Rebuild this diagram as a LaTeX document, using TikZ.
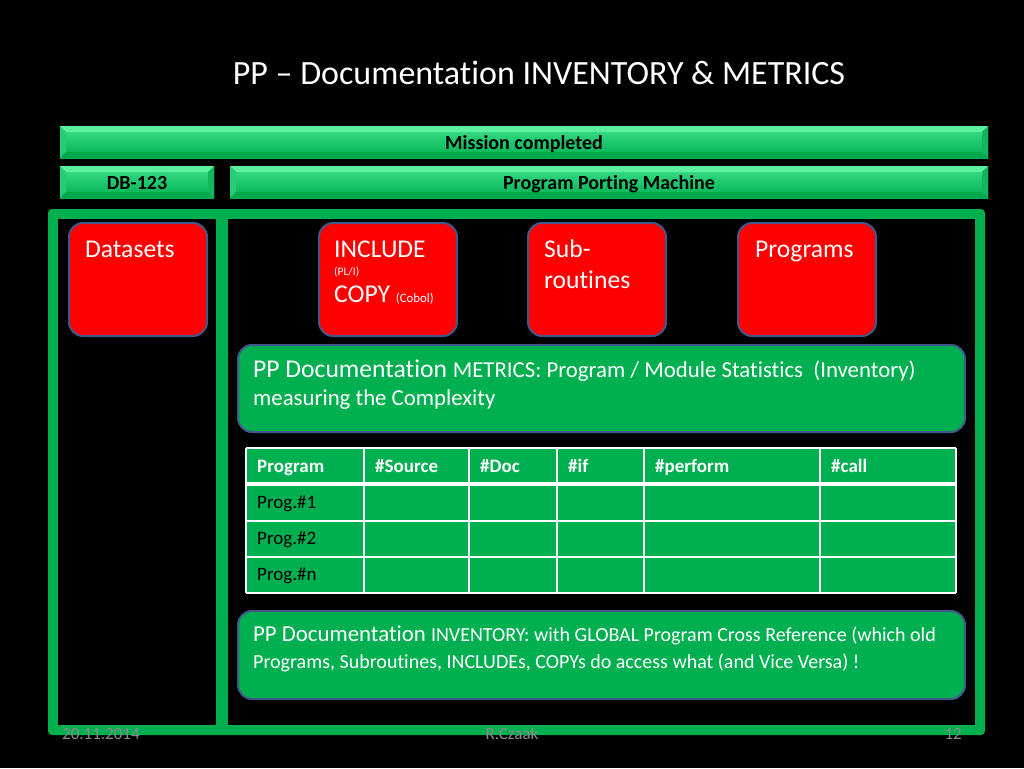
\documentclass[tikz,border=0pt]{standalone}
\usepackage{fontspec}
\setmainfont[Ligatures={NoCommon,NoContextual,NoRequired}]{Carlito}
\usetikzlibrary{positioning}

\definecolor{slidegreen}{HTML}{00B050}
\definecolor{barface}{HTML}{3EE08A}
\definecolor{bevtop}{HTML}{5CF0A0}
\definecolor{bevleft}{HTML}{2ACB74}
\definecolor{bevright}{HTML}{12B75C}
\definecolor{bevbottom}{HTML}{00A94C}
\definecolor{boxedge}{HTML}{41598A}
\definecolor{footgray}{HTML}{8C8C8C}

\newcommand{\fsz}[2]{\fontsize{#1pt}{#2pt}\selectfont}

\tikzset{
  bar/.style={rectangle, inner sep=0pt, minimum height=32pt,
    text height=14pt, text depth=0pt,
    top color=barface, bottom color=slidegreen,
    font=\fsz{20}{24}\bfseries, text=black,
    path picture={
      \fill[bevtop] (path picture bounding box.north west) -- (path picture bounding box.north east)
        -- ([shift={(-6pt,-6pt)}]path picture bounding box.north east) -- ([shift={(6pt,-6pt)}]path picture bounding box.north west) -- cycle;
      \fill[bevleft] (path picture bounding box.north west) -- (path picture bounding box.south west)
        -- ([shift={(6pt,6pt)}]path picture bounding box.south west) -- ([shift={(6pt,-6pt)}]path picture bounding box.north west) -- cycle;
      \fill[bevright] (path picture bounding box.north east) -- (path picture bounding box.south east)
        -- ([shift={(-6pt,6pt)}]path picture bounding box.south east) -- ([shift={(-6pt,-6pt)}]path picture bounding box.north east) -- cycle;
      \fill[bevbottom] (path picture bounding box.south west) -- (path picture bounding box.south east)
        -- ([shift={(-6pt,6pt)}]path picture bounding box.south east) -- ([shift={(6pt,6pt)}]path picture bounding box.south west) -- cycle;
    }},
  redbox/.style={rectangle, rounded corners=14pt, fill=red, draw=boxedge, line width=2pt,
    minimum width=138pt, minimum height=113pt, anchor=north west},
  greenbox/.style={rectangle, rounded corners=14pt, fill=slidegreen, draw=boxedge, line width=2pt,
    minimum width=727pt, anchor=north west},
  boxlabel/.style={anchor=base west, inner sep=0pt, text=white, font=\fsz{25.6}{30.7}},
  headcell/.style={anchor=base west, inner sep=0pt, text=white, font=\fsz{19}{23}\bfseries},
  rowcell/.style={anchor=base west, inner sep=0pt, text=black, font=\fsz{19}{23}},
  footer/.style={anchor=base, inner sep=0pt, text=footgray, font=\fsz{17}{20}}
}

\begin{document}
\begin{tikzpicture}[x=1pt, y=-1pt]
  \useasboundingbox (0,0) rectangle (1024,768);
  \fill[black] (0,0) rectangle (1024,768);

  % Title
  \node[anchor=base, inner sep=0pt, text=white, font=\fsz{34}{40}] (title) at (539,84)
    {PP -- Documentation INVENTORY \& METRICS};

  % Bars
  \node[bar, minimum width=928pt] (mission) at (524,142) {Mission completed};
  \node[bar, minimum width=154pt] (db) at (137,182) {DB-123};
  \node[bar, minimum width=758pt] (ppm) at (609,182) {Program Porting Machine};

  % Frame
  \fill[slidegreen, rounded corners=4pt] (48,209) rectangle (985,735);
  \fill[black] (58,219) rectangle (216,725);
  \fill[black] (228,219) rectangle (975,725);

  % Red boxes
  \node[redbox] (datasets) at (68,222) {};
  \node[redbox] (include) at (318,222) {};
  \node[redbox] (subr) at (527,222) {};
  \node[redbox] (progs) at (737,222) {};

  \node[boxlabel] (datasetstxt) at (85,257) {Datasets};
  \node[boxlabel] (includetxt) at (334,257) {INCLUDE};
  \node[boxlabel, font=\fsz{11.5}{14}] (plitxt) at (334,275) {(PL/I)};
  \node[boxlabel] (copytxt) at (334,302) {COPY {\fsz{12.8}{15}(Cobol)}};
  \node[boxlabel] (subtxt) at (544,257) {Sub-};
  \node[boxlabel] (routtxt) at (544,288) {routines};
  \node[boxlabel] (progstxt) at (755,257) {Programs};

  % METRICS box
  \node[greenbox, minimum height=87pt] (metrics) at (237,344) {};
  \node[boxlabel] (metricsone) at (253,377)
    {PP Documentation {\fsz{22.8}{27}METRICS: Program / Module Statistics~~(Inventory)}};
  \node[boxlabel, font=\fsz{22.8}{27}] (metricstwo) at (253,405) {measuring the Complexity};

  % Table
  \fill[slidegreen] (246,448) rectangle (956,593);
  \foreach \cx in {246,364,469,557,644,820,956}
    \draw[white, line width=1.5pt] (\cx,448) -- (\cx,593);
  \foreach \ry in {448,521,557,593}
    \draw[white, line width=1.5pt] (246,\ry) -- (956,\ry);
  \draw[white, line width=4pt] (246,484) -- (956,484);
  \foreach \cx/\ct [count=\i] in {257/Program,375/\#Source,480/\#Doc,568/\#if,655/\#perform,831/\#call}
    \node[headcell] (head\i) at (\cx,472) {\ct};
  \foreach \ry/\rt [count=\i] in {508/1,544/2,580/n}
    \node[rowcell] (row\i) at (257,\ry) {Prog.\#\rt};

  % INVENTORY box
  \node[greenbox, minimum height=88pt] (inventory) at (237,610) {};
  \node[boxlabel, font=\fsz{22.8}{27}] (inventoryone) at (253,641)
    {PP Documentation {\fsz{20}{24}INVENTORY: with GLOBAL Program Cross Reference (which old}};
  \node[boxlabel, font=\fsz{20}{24}] (inventorytwo) at (253,668)
    {Programs, Subroutines, INCLUDEs, COPYs do access what (and Vice Versa) !};

  % Footer
  \node[footer, anchor=base west] (date) at (62,739) {20.11.2014};
  \node[footer] (author) at (512,739) {R.Czaak};
  \node[footer, anchor=base east] (page) at (962,739) {12};
\end{tikzpicture}
\end{document}
